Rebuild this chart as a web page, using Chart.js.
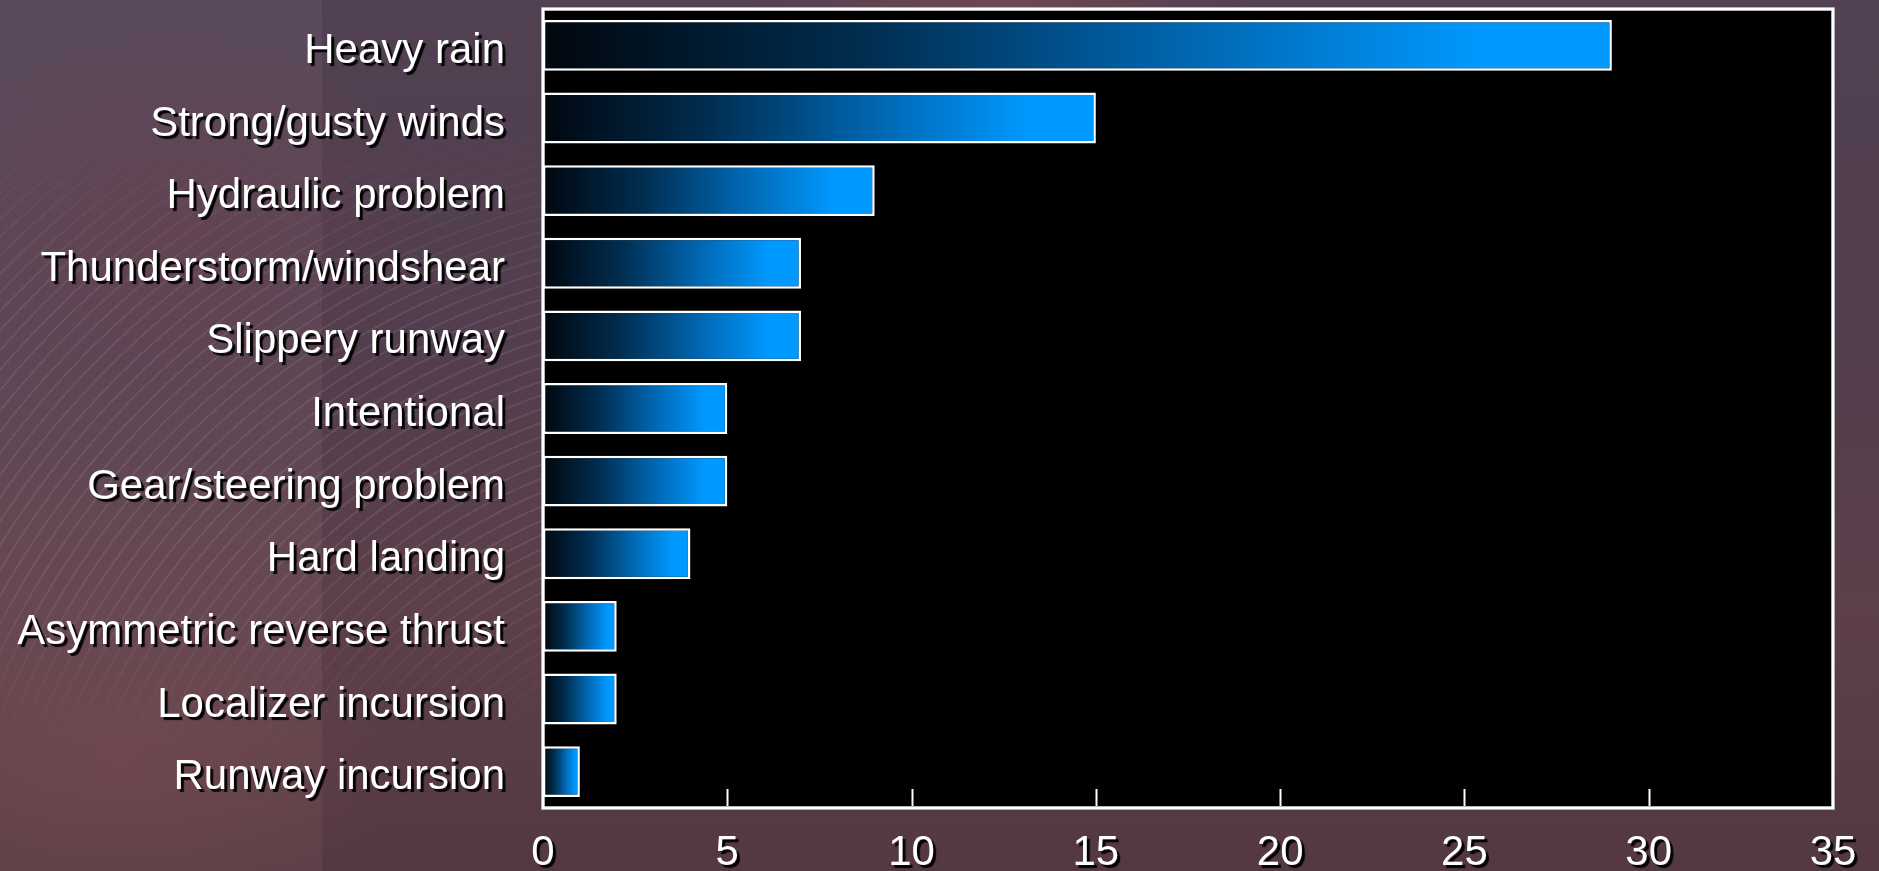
<!DOCTYPE html>
<html>
<head>
<meta charset="utf-8">
<script src="https://cdn.jsdelivr.net/npm/chart.js@4.4.1/dist/chart.umd.min.js"></script>
<style>
    html, body {
        margin: 0;
        padding: 0;
        width: 1879px;
        height: 871px;
        overflow: hidden;
    }
    body {
        position: relative;
        background:
            radial-gradient(ellipse 260px 200px at 180px 230px, rgba(110, 60, 70, 0.35), rgba(0, 0, 0, 0)),
            radial-gradient(ellipse 300px 160px at 120px 760px, rgba(140, 80, 80, 0.3), rgba(0, 0, 0, 0)),
            radial-gradient(ellipse 260px 40px at 1000px 0px, rgba(150, 80, 80, 0.45), rgba(0, 0, 0, 0)),
            linear-gradient(to right, rgba(0, 0, 0, 0) 0 322px, rgba(25, 10, 25, 0.14) 322px 100%),
            linear-gradient(to bottom, #5a4a5c 0%, #5c4656 40%, #674852 70%, #5d4048 100%);
    }
    .arcs {
        position: absolute;
        left: 0;
        top: 120px;
        width: 545px;
        height: 640px;
        background: repeating-radial-gradient(circle at 760px 900px,
            rgba(255, 255, 255, 0) 0 11px,
            rgba(255, 255, 255, 0.08) 11px 13px);
        -webkit-mask-image: linear-gradient(to bottom, rgba(0,0,0,0), #000 30%, #000 70%, rgba(0,0,0,0));
        mask-image: linear-gradient(to bottom, rgba(0,0,0,0), #000 30%, #000 70%, rgba(0,0,0,0));
    }
    canvas {
        position: absolute;
        left: 0;
        top: 0;
    }
</style>
</head>
<body>
<div class="arcs"></div>
<canvas id="causesChart" width="1879" height="871"></canvas>
<script>
// Data
const categories = [
    "Heavy rain",
    "Strong/gusty winds",
    "Hydraulic problem",
    "Thunderstorm/windshear",
    "Slippery runway",
    "Intentional",
    "Gear/steering problem",
    "Hard landing",
    "Asymmetric reverse thrust",
    "Localizer incursion",
    "Runway incursion"
];
const counts = [29, 15, 9, 7, 7, 5, 5, 4, 2, 2, 1];
const xTicks = [0, 5, 10, 15, 20, 25, 30, 35];

const FONT = "'Liberation Sans', Arial, sans-serif";

// Each bar fades from near black on the left to bright blue at its own end
function barGradient(context) {
    const chart = context.chart;
    const xScale = chart.scales.x;
    if (!chart.chartArea || !xScale) return '#0099ff';
    const x0 = xScale.getPixelForValue(0);
    const x1 = xScale.getPixelForValue(context.raw);
    const g = chart.ctx.createLinearGradient(x0, 0, x1, 0);
    g.addColorStop(0, '#01070e');
    g.addColorStop(0.3, '#002d50');
    g.addColorStop(0.6, '#0066b0');
    g.addColorStop(0.88, '#0099ff');
    g.addColorStop(1, '#0099ff');
    return g;
}

// Black plot box, white frame and inward tick marks on the bottom axis
const plotFrame = {
    id: 'plotFrame',
    beforeDraw(chart) {
        const { ctx, chartArea: a } = chart;
        ctx.save();
        ctx.fillStyle = '#000';
        ctx.fillRect(a.left, a.top, a.right - a.left, a.bottom - a.top);
        ctx.restore();

        // drop shadow for every tick label (category labels sit a bit low in the original)
        Object.values(chart.scales).forEach(scale => {
            if (scale._shadowPatched) return;
            const orig = scale.drawLabels;
            const shiftY = scale.axis === 'y' ? 6 : 0;
            scale.drawLabels = function (area) {
                const c = this.ctx;
                c.save();
                c.translate(0, shiftY);
                c.shadowColor = 'rgba(0, 0, 0, 0.95)';
                c.shadowOffsetX = 3;
                c.shadowOffsetY = 3;
                c.shadowBlur = 1;
                orig.call(this, area);
                c.restore();
            };
            scale._shadowPatched = true;
        });
    },
    beforeDatasetsDraw(chart) {
        const { ctx, chartArea: a } = chart;
        const xScale = chart.scales.x;
        ctx.save();
        ctx.strokeStyle = '#fff';
        ctx.lineWidth = 2;
        xScale.ticks.forEach(t => {
            const px = Math.round(xScale.getPixelForValue(t.value)) + 0.5;
            ctx.beginPath();
            ctx.moveTo(px, a.bottom);
            ctx.lineTo(px, a.bottom - 19);
            ctx.stroke();
        });
        ctx.strokeStyle = '#9a9a9a';
        ctx.lineWidth = 4;
        ctx.strokeRect(a.left, a.top, a.right - a.left, a.bottom - a.top);
        ctx.strokeStyle = '#fff';
        ctx.lineWidth = 2.5;
        ctx.strokeRect(a.left, a.top, a.right - a.left, a.bottom - a.top);
        ctx.restore();
    }
};

const ctx = document.getElementById('causesChart').getContext('2d');

new Chart(ctx, {
    type: 'bar',
    data: {
        labels: categories,
        datasets: [{
            data: counts,
            backgroundColor: barGradient,
            borderColor: '#ffffff',
            borderWidth: 2.5,
            borderSkipped: false,
            categoryPercentage: 1,
            barPercentage: 0.7
        }]
    },
    options: {
        indexAxis: 'y',
        responsive: false,
        animation: false,
        layout: {
            padding: { top: 9, right: 46, left: 0, bottom: 0 }
        },
        scales: {
            x: {
                min: 0,
                max: 35,
                afterBuildTicks: scale => {
                    scale.ticks = xTicks.map(v => ({ value: v }));
                },
                afterFit: scale => {
                    scale.height = 63;
                    scale.paddingLeft = 0;
                    scale.paddingRight = 0;
                },
                grid: { display: false, drawTicks: false },
                border: { display: false },
                ticks: {
                    color: '#ffffff',
                    padding: 20,
                    maxRotation: 0,
                    autoSkip: false,
                    font: { family: FONT, size: 42 }
                }
            },
            y: {
                afterFit: scale => {
                    scale.width = 543;
                    scale.paddingTop = 0;
                    scale.paddingBottom = 0;
                },
                grid: { display: false, drawTicks: false },
                border: { display: false },
                ticks: {
                    color: '#ffffff',
                    padding: 38,
                    autoSkip: false,
                    font: { family: FONT, size: 42 }
                }
            }
        },
        plugins: {
            legend: { display: false },
            tooltip: { enabled: false }
        }
    },
    plugins: [plotFrame]
});
</script>
</body>
</html>
